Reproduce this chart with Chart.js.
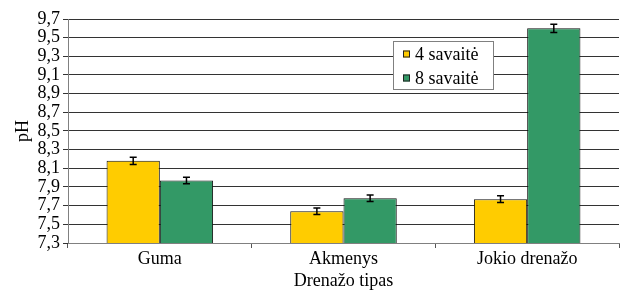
<!DOCTYPE html>
<html>
<head>
<meta charset="utf-8">
<script src="https://cdn.jsdelivr.net/npm/chart.js@4/dist/chart.umd.min.js"></script>
<style>
  html, body { margin: 0; padding: 0; background: #fff; }
  #wrap { width: 631px; height: 292px; }
</style>
</head>
<body>
<div id="wrap"><canvas id="c" width="631" height="292"></canvas></div>
<script>
// data
const categories = ['Guma', 'Akmenys', 'Jokio drenažo'];
const seriesNames = ['4 savaitė', '8 savaitė'];
const week4 = [8.18, 7.64, 7.77];
const week8 = [7.97, 7.78, 9.60];
const week4Err = [0.04, 0.035, 0.035];
const week8Err = [0.035, 0.035, 0.045];
const yTicks = [7.3, 7.5, 7.7, 7.9, 8.1, 8.3, 8.5, 8.7, 8.9, 9.1, 9.3, 9.5, 9.7];

const serif = "'Liberation Serif', 'Times New Roman', serif";

// error bars drawn with the y scale
const errorBars = {
  id: 'errorBars',
  afterDatasetsDraw(chart) {
    const ctx = chart.ctx, y = chart.scales.y;
    chart.data.datasets.forEach((ds, i) => {
      const meta = chart.getDatasetMeta(i);
      meta.data.forEach((bar, j) => {
        const v = ds.data[j], e = ds.errors[j];
        const top = y.getPixelForValue(v + e), bot = y.getPixelForValue(v - e);
        ctx.save();
        ctx.strokeStyle = '#000'; ctx.lineWidth = 1.5;
        ctx.beginPath();
        ctx.moveTo(bar.x, top); ctx.lineTo(bar.x, bot);
        ctx.moveTo(bar.x - 3.5, top); ctx.lineTo(bar.x + 3.5, top);
        ctx.moveTo(bar.x - 3.5, bot); ctx.lineTo(bar.x + 3.5, bot);
        ctx.stroke();
        ctx.restore();
      });
    });
  }
};

// boxed legend inside the plot
const boxLegend = {
  id: 'boxLegend',
  afterDraw(chart) {
    const ctx = chart.ctx;
    const x = 393, yTop = 41, w = 100, h = 48;
    ctx.save();
    ctx.fillStyle = '#fff'; ctx.fillRect(x, yTop, w, h);
    ctx.strokeStyle = '#808080'; ctx.lineWidth = 1;
    ctx.strokeRect(x + 0.5, yTop + 0.5, w, h);
    ctx.font = '18px ' + serif;
    ctx.textBaseline = 'middle';
    chart.data.datasets.forEach((ds, i) => {
      const cy = yTop + 13 + i * 24;
      ctx.fillStyle = ds.backgroundColor;
      ctx.fillRect(x + 10, cy - 3.5, 7, 7);
      ctx.strokeStyle = '#222';
      ctx.strokeRect(x + 10.5, cy - 3, 6, 6);
      ctx.fillStyle = '#000';
      ctx.fillText(ds.label, x + 22, cy + 1);
    });
    ctx.restore();
  }
};

new Chart(document.getElementById('c'), {
  type: 'bar',
  data: {
    labels: categories,
    datasets: [
      { label: seriesNames[0], data: week4, errors: week4Err, backgroundColor: '#FFCC00', borderColor: '#111', borderWidth: 1 },
      { label: seriesNames[1], data: week8, errors: week8Err, backgroundColor: '#339966', borderColor: '#111', borderWidth: 1 }
    ]
  },
  options: {
    responsive: false,
    animation: false,
    layout: { padding: { top: 19, right: 12, left: 0, bottom: 0 } },
    datasets: { bar: { categoryPercentage: 0.58, barPercentage: 1 } },
    plugins: { legend: { display: false }, tooltip: { enabled: false } },
    scales: {
      x: {
        grid: { offset: true, drawOnChartArea: false, drawTicks: true, tickLength: 5, color: '#555' },
        border: { color: '#808080' },
        ticks: { color: '#000', font: { family: serif, size: 18 }, padding: 0 },
        title: { display: true, text: 'Drenažo tipas', color: '#000', font: { family: serif, size: 18 }, padding: { top: 0, bottom: 0 } },
        afterFit(s) { s.height = 49; }
      },
      y: {
        min: 7.3, max: 9.7,
        afterBuildTicks(s) { s.ticks = yTicks.map(v => ({ value: v })); },
        grid: { color: '#333', tickLength: 5 },
        border: { color: '#808080' },
        ticks: {
          color: '#000', font: { family: serif, size: 18 }, padding: 3, autoSkip: false,
          callback: v => v.toFixed(1).replace('.', ',')
        },
        title: { display: true, text: 'pH', color: '#000', font: { family: serif, size: 18 }, padding: { top: 12, bottom: 0 } },
        afterFit(s) { s.width = 68; }
      }
    }
  },
  plugins: [errorBars, boxLegend]
});
</script>
</body>
</html>
